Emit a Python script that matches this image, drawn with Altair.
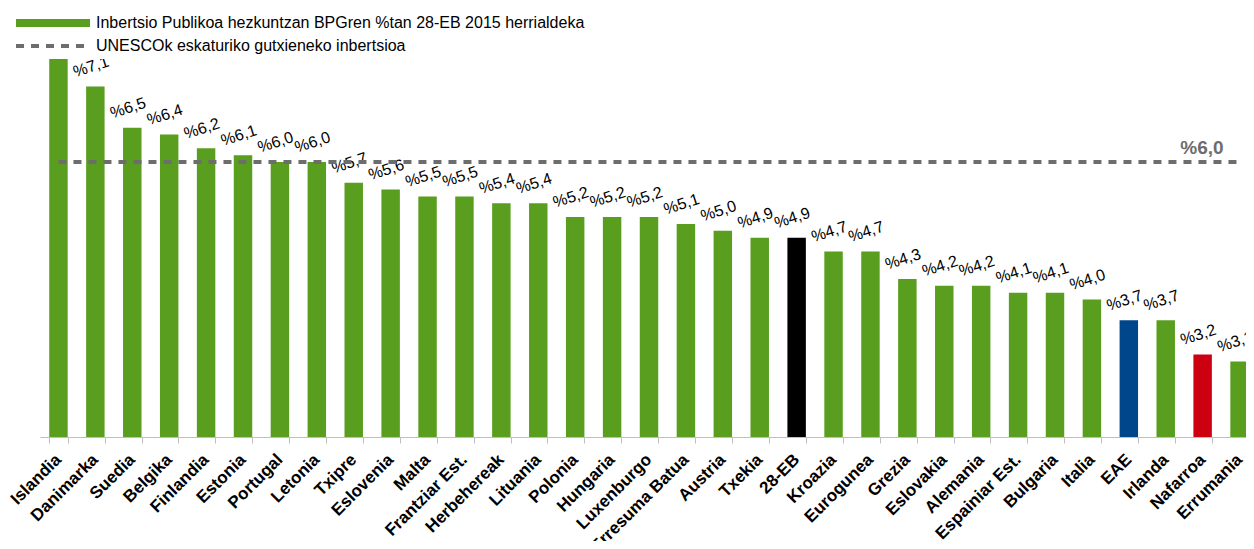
import altair as alt
import pandas as pd

categories = ["Islandia", "Danimarka", "Suedia", "Belgika", "Finlandia", "Estonia",
              "Portugal", "Letonia", "Txipre", "Eslovenia", "Malta", "Frantziar Est.",
              "Herbehereak", "Lituania", "Polonia", "Hungaria", "Luxenburgo",
              "Erresuma Batua", "Austria", "Txekia", "28-EB", "Kroazia", "Eurogunea",
              "Grezia", "Eslovakia", "Alemania", "Espainiar Est.", "Bulgaria", "Italia",
              "EAE", "Irlanda", "Nafarroa", "Errumania"]
values = [7.7, 7.1, 6.5, 6.4, 6.2, 6.1, 6.0, 6.0, 5.7, 5.6, 5.5, 5.5, 5.4, 5.4, 5.2,
          5.2, 5.2, 5.1, 5.0, 4.9, 4.9, 4.7, 4.7, 4.3, 4.2, 4.2, 4.1, 4.1, 4.0, 3.7,
          3.7, 3.2, 3.1]
highlight = {"28-EB": "EB", "EAE": "EAE", "Nafarroa": "Nafarroa"}
unesco_value = 6.0
y_max = 7.5
legend_labels = ["Inbertsio Publikoa hezkuntzan BPGren %tan 28-EB 2015 herrialdeka",
                 "UNESCOk eskaturiko gutxieneko inbertsioa"]

def fmt(v):
    return "%" + f"{v:.1f}".replace(".", ",")

df = pd.DataFrame({
    "cat": categories,
    "val": values,
    "kind": [highlight.get(c, "other") for c in categories],
    "lbl": [fmt(v) for v in values],
})

FONT = "Liberation Sans"
GREEN = "#599E1E"
GREY = "#6D6D6D"

x_scale = alt.Scale(paddingInner=0.5, paddingOuter=0.25, range=[0, 1218])
x_enc = alt.X("cat:N", sort=categories, scale=x_scale,
              axis=alt.Axis(title=None, labelAngle=-45, labelAlign="right",
                            labelBaseline="top", labelFont=FONT, labelFontSize=17,
                            labelFontWeight="bold", labelColor="#000000",
                            labelPadding=8, labelOffset=-6, labelOverlap=False,
                            labelLimit=300, tickBand="extent", tickColor="#BFBFBF",
                            tickSize=6, domainColor="#BFBFBF", domainWidth=1))
x_plain = alt.X("cat:N", sort=categories)
y_scale = alt.Scale(domain=[2, y_max], zero=False, nice=False)

base = alt.Chart(df)

bars = base.mark_bar(clip=True).encode(
    x=x_enc,
    y=alt.Y("val:Q", scale=y_scale, axis=None),
    y2=alt.datum(2),
    color=alt.Color("kind:N",
                    scale=alt.Scale(domain=["other", "EB", "EAE", "Nafarroa"],
                                    range=[GREEN, "#000000", "#00468B", "#CC0010"]),
                    legend=None),
)

labels = base.mark_text(clip=True, font=FONT, fontSize=16, angle=342, align="center",
                        baseline="middle", dy=-20, dx=2, color="#000000").encode(
    x=x_plain,
    y=alt.Y("val:Q", scale=y_scale),
    text="lbl:N",
)

line_df = pd.DataFrame({"cat": [categories[0], categories[-1]],
                        "val": [unesco_value, unesco_value]})
unesco = alt.Chart(line_df).mark_line(strokeDash=[8, 7], strokeWidth=4, color=GREY).encode(
    x=x_plain,
    y=alt.Y("val:Q", scale=y_scale),
)

ulabel_df = pd.DataFrame({"cat": [categories[-1]], "val": [unesco_value],
                          "lbl": [fmt(unesco_value)]})
ulabel = alt.Chart(ulabel_df).mark_text(font=FONT, fontSize=19, fontWeight="bold",
                                         color=GREY, align="right", baseline="alphabetic",
                                         dx=-16, dy=-8).encode(
    x=x_plain,
    y=alt.Y("val:Q", scale=y_scale),
    text="lbl:N",
)

one = pd.DataFrame({"a": [0]})
leg_rect = alt.Chart(one).mark_rect(color=GREEN).encode(
    x=alt.value(-24), x2=alt.value(50), y=alt.value(-40), y2=alt.value(-32))
leg_text1 = alt.Chart(one).mark_text(font=FONT, fontSize=16, align="left",
                                     baseline="middle", color="#000000").encode(
    x=alt.value(56), y=alt.value(-36), text=alt.value(legend_labels[0]))
leg_dash = alt.Chart(one).mark_rule(strokeDash=[8, 7], strokeWidth=4, color=GREY).encode(
    x=alt.value(-24), x2=alt.value(50), y=alt.value(-13))
leg_text2 = alt.Chart(one).mark_text(font=FONT, fontSize=16, align="left",
                                     baseline="middle", color="#000000").encode(
    x=alt.value(56), y=alt.value(-13), text=alt.value(legend_labels[1]))

chart = alt.layer(bars, labels, unesco, ulabel, leg_rect, leg_text1, leg_dash, leg_text2).properties(
    width=1206, height=378,
    autosize=alt.AutoSizeParams(type="none"),
    padding={"left": 32, "top": 51, "right": 0, "bottom": 104},
    background="white",
).configure_view(stroke=None)

chart.save("out.html", embed_options={"renderer": "svg", "actions": False})
